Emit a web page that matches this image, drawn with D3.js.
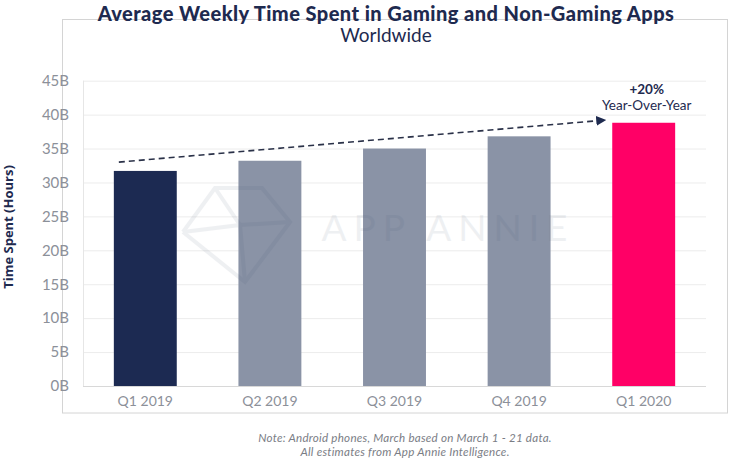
<!DOCTYPE html>
<html><head><meta charset="utf-8">
<script src="https://cdn.jsdelivr.net/npm/d3@7"></script>
<style>body{margin:0;background:#fff}svg{display:block}</style>
</head><body>
<svg id="chart" width="729" height="460"></svg>
<script>
const categories = ["Q1 2019", "Q2 2019", "Q3 2019", "Q4 2019", "Q1 2020"];
const values = [31.7, 33.2, 35.0, 36.8, 38.8];
const barColors = ["#1c2a52", "#8a93a6", "#8a93a6", "#8a93a6", "#ff0066"];
const yTicks = [0, 5, 10, 15, 20, 25, 30, 35, 40, 45];
const trendStart = 33.0, trendEnd = 39.2;
const titleText = "Average Weekly Time Spent in Gaming and Non-Gaming Apps";
const subtitleText = "Worldwide";
const yAxisTitle = "Time Spent (Hours)";
const annoLines = ["+20%", "Year-Over-Year"];
const noteLines = ["Note: Android phones, March based on March 1 - 21 data.", "All estimates from App Annie Intelligence."];

(function () {
const svg = d3.select("#chart");
const font = "Lato, 'Open Sans', sans-serif";
const navy = "#1e2a4f";
const pL = 83, pR = 706, pT = 80.7, pB = 386;

// outer frame
svg.append("rect").attr("x", 62.5).attr("y", 19.5).attr("width", 665).attr("height", 393.5)
  .attr("fill", "none").attr("stroke", "#d4d4d4").attr("stroke-width", 1);

const x = d3.scaleBand().domain(categories).range([pL, pR]).paddingInner(0.495).paddingOuter(0.2475);
const y = d3.scaleLinear().domain([0, 45]).range([pB, pT]);

// gridlines
svg.append("g").attr("transform", `translate(${pL},0)`)
  .call(d3.axisLeft(y).tickValues(yTicks).tickSize(-(pR - pL)).tickFormat(""))
  .call(g => g.select(".domain").remove())
  .call(g => g.selectAll("line").attr("stroke", "#ececec"));

// plot left border
svg.append("line").attr("x1", pL + 0.5).attr("x2", pL + 0.5).attr("y1", pT).attr("y2", pB)
  .attr("stroke", "#e6e6e6");

// bars
svg.append("g").selectAll("rect").data(values).join("rect")
  .attr("x", (d, i) => x(categories[i]))
  .attr("y", d => y(d))
  .attr("width", x.bandwidth())
  .attr("height", d => pB - y(d))
  .attr("fill", (d, i) => barColors[i]);

// watermark (overlay)
const wm = svg.append("g").attr("opacity", 0.08).attr("stroke", "#3a4a6a").attr("fill", "none").attr("stroke-width", 4);
const gem = [[183, 232], [215, 188], [262, 188], [290, 222], [245, 282]];
wm.append("path").attr("d", d3.line()(gem.concat([gem[0]])));
wm.append("path").attr("d", d3.line()([[215, 188], [240, 225], [290, 222]]));
wm.append("path").attr("d", d3.line()([[183, 232], [240, 225], [245, 282]]));
svg.append("text").attr("x", 448).attr("y", 241).attr("text-anchor", "middle")
  .attr("font-family", font).attr("font-size", 37).attr("letter-spacing", 7)
  .attr("fill", "#3a4a6a").attr("opacity", 0.08).text("APP ANNIE");

// bottom axis line
svg.append("line").attr("x1", pL).attr("x2", pR).attr("y1", pB + 0.5).attr("y2", pB + 0.5)
  .attr("stroke", "#d8d8d8");

// y tick labels
svg.append("g").attr("transform", "translate(69,0)")
  .call(d3.axisLeft(y).tickValues(yTicks).tickSize(0).tickPadding(0).tickFormat(d => d + "B"))
  .call(g => g.select(".domain").remove())
  .call(g => g.selectAll("text").attr("font-family", font).attr("font-size", 15).attr("fill", "#8c9099"));

// x tick labels
svg.append("g").attr("transform", `translate(0,${pB})`)
  .call(d3.axisBottom(x).tickSize(0).tickPadding(10))
  .call(g => g.select(".domain").remove())
  .call(g => g.selectAll("text").attr("font-family", font).attr("font-size", 14).attr("fill", "#8c9099"));

// trend arrow
const defs = svg.append("defs");
defs.append("marker").attr("id", "arr").attr("viewBox", "0 0 10 10").attr("refX", 9).attr("refY", 5)
  .attr("markerWidth", 10).attr("markerHeight", 10).attr("markerUnits", "userSpaceOnUse").attr("orient", "auto")
  .append("path").attr("d", "M0,0 L10,5 L0,10 z").attr("fill", "#1e2a4f");
const x0 = x(categories[0]) + 5;
const x1 = x(categories[4]) - 7;
svg.append("line").attr("x1", x0).attr("y1", y(trendStart)).attr("x2", x1).attr("y2", y(trendEnd))
  .attr("stroke", "#2a3148").attr("stroke-width", 1.6).attr("stroke-dasharray", "6,4")
  .attr("marker-end", "url(#arr)");

// annotation
const ax = x(categories[4]) + x.bandwidth() / 2 + 3;
svg.append("text").attr("x", ax).attr("y", 94).attr("text-anchor", "middle")
  .attr("font-family", font).attr("font-weight", "bold").attr("font-size", 13.5).attr("fill", navy).text(annoLines[0]);
svg.append("text").attr("x", ax).attr("y", 110).attr("text-anchor", "middle")
  .attr("font-family", font).attr("font-size", 13.5).attr("fill", navy).text(annoLines[1]);

// title
svg.append("text").attr("x", 386).attr("y", 20.5).attr("text-anchor", "middle")
  .attr("font-family", font).attr("font-weight", "900").attr("font-size", 20).attr("letter-spacing", 0.45)
  .attr("fill", navy).text(titleText);
svg.append("text").attr("x", 386).attr("y", 42).attr("text-anchor", "middle")
  .attr("font-family", font).attr("font-size", 19).attr("fill", navy).text(subtitleText);

// y axis title
svg.append("text").attr("transform", "translate(13,227) rotate(-90)").attr("text-anchor", "middle")
  .attr("font-family", "'Open Sans', sans-serif").attr("font-weight", "bold").attr("font-size", 13).attr("fill", navy).text(yAxisTitle);

// note
noteLines.forEach((t, i) => {
  svg.append("text").attr("x", 405).attr("y", 442 + i * 14).attr("text-anchor", "middle")
    .attr("font-family", font).attr("font-style", "italic").attr("font-size", 11.6).attr("letter-spacing", 0.25)
    .attr("fill", "#7a7d85").text(t);
});
})();
</script>
</body></html>
